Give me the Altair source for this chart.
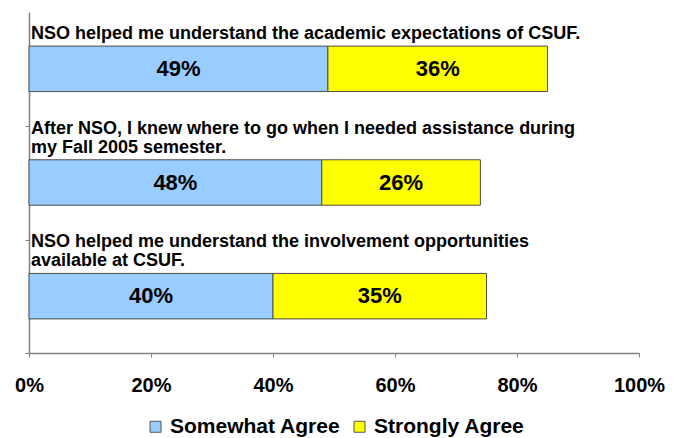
import altair as alt
import pandas as pd

# ---- data ----
question_ids = ["Q1", "Q2", "Q3"]
questions = [
    "NSO helped me understand the academic expectations of CSUF.",
    "After NSO, I knew where to go when I needed assistance during\nmy Fall 2005 semester.",
    "NSO helped me understand the involvement opportunities\navailable at CSUF.",
]
series = ["Somewhat Agree", "Strongly Agree"]
somewhat_agree = [0.49, 0.48, 0.40]
strongly_agree = [0.36, 0.26, 0.35]
colors = ["#99CCFF", "#FFFF00"]
x_ticks = [0, 0.2, 0.4, 0.6, 0.8, 1.0]

FONT = "Liberation Sans"

rows = []
for qid, a, b in zip(question_ids, somewhat_agree, strongly_agree):
    start = 0.0
    for s, v in zip(series, [a, b]):
        rows.append({"qid": qid, "series": s, "value": v,
                     "start": start, "end": start + v,
                     "label": f"{round(v * 100)}%"})
        start += v
bars_df = pd.DataFrame(rows)
q_df = pd.DataFrame({"qid": question_ids, "question": questions})

y_enc = alt.Y("qid:N", sort=question_ids,
              scale=alt.Scale(paddingInner=0.6, paddingOuter=0.3),
              axis=alt.Axis(labels=False, title=None, grid=False, ticks=True,
                            tickOffset=57, tickSize=4, tickColor="#808080",
                            domainColor="#808080", domainWidth=1.5))
x_scale = alt.Scale(domain=[0, 1], nice=False)

bars = alt.Chart(bars_df).mark_bar(stroke="#4d4d4d", strokeWidth=1).encode(
    x=alt.X("start:Q", scale=x_scale,
            axis=alt.Axis(values=x_ticks, format=".0%", title=None, grid=False,
                          tickSize=4, tickColor="#808080", domainColor="#808080",
                          domainWidth=1.5, labelFontSize=20, labelFont=FONT,
                          labelFontWeight="bold", labelColor="black",
                          labelPadding=18, labelFlush=False, labelBound=False,
                          labelOverlap=False)),
    x2="end:Q",
    y=y_enc,
    color=alt.Color("series:N", scale=alt.Scale(domain=series, range=colors),
                    legend=alt.Legend(orient="none", legendX=116, legendY=404,
                                      direction="horizontal", title=None,
                                      symbolType="square", symbolSize=121,
                                      symbolStrokeColor="#555555",
                                      symbolStrokeWidth=1, labelFont=FONT,
                                      labelFontSize=21, labelFontWeight="bold",
                                      labelColor="black", columnPadding=8,
                                      labelLimit=0, labelOffset=4,
                                      symbolOpacity=1)),
)

values = alt.Chart(bars_df).mark_text(font=FONT, fontSize=22, fontWeight="bold",
                                      color="black").encode(
    x="mid:Q",
    y=alt.Y("qid:N", sort=question_ids),
    text="label:N",
).transform_calculate(mid="(datum.start + datum.end) / 2")

# lines are drawn bottom-up (negative line height) so the last line sits just above its bar
labels = alt.Chart(q_df).mark_text(font=FONT, fontSize=18, fontWeight="bold",
                                   color="black", align="left", baseline="alphabetic",
                                   dx=2, dy=-30, lineHeight=-19).encode(
    x=alt.datum(0),
    y=alt.Y("qid:N", sort=question_ids),
    text="lines:N",
).transform_calculate(lines="reverse(split(datum.question, '\\n'))")

chart = alt.layer(bars, values, labels).properties(
    width=610, height=341,
    autosize=alt.AutoSizeParams(type="none"),
    padding={"left": 21, "top": 4, "right": 33, "bottom": 84},
    background="white",
).configure_view(stroke=None)

chart.save("out.html", embed_options={"renderer": "svg", "actions": False})
